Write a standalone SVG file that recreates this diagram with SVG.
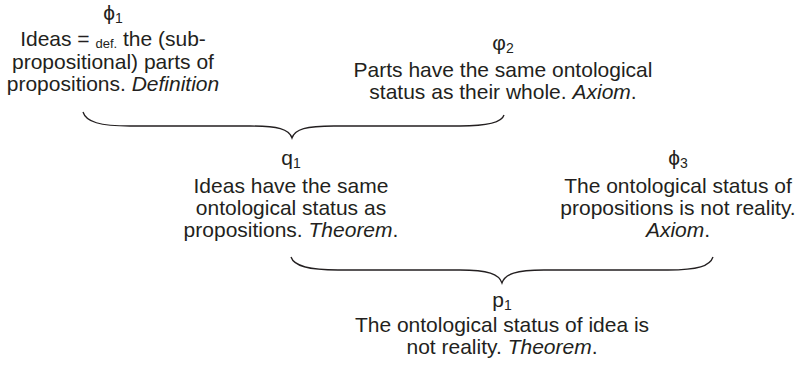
<svg xmlns="http://www.w3.org/2000/svg" width="807" height="367" viewBox="0 0 807 367">
<style>
text{font-family:"Liberation Sans",Arial,"DejaVu Sans",sans-serif;font-size:21px;fill:#231f20;text-anchor:middle}
.sub{font-size:14px}
.def{font-size:13px}
.it{font-style:italic}
.brace{fill:none;stroke:#231f20;stroke-width:1.3}
</style>
<rect width="807" height="367" fill="#fff"/>
<g id="phi1">
<text x="113" y="20">ϕ<tspan class="sub" dy="3">1</tspan></text>
<text x="113" y="46">Ideas = <tspan class="def" dy="2">def.</tspan><tspan dy="-2"> the (sub-</tspan></text>
<text x="113" y="69">propositional) parts of</text>
<text x="113" y="91">propositions. <tspan class="it">Definition</tspan></text>
</g>
<g id="phi2">
<text x="503" y="50">φ<tspan class="sub" dy="3">2</tspan></text>
<text x="503" y="77">Parts have the same ontological</text>
<text x="503" y="99">status as their whole. <tspan class="it">Axiom</tspan>.</text>
</g>
<g id="q1">
<text x="291" y="165">q<tspan class="sub" dy="3">1</tspan></text>
<text x="291" y="193">Ideas have the same</text>
<text x="291" y="215">ontological status as</text>
<text x="291" y="237">propositions. <tspan class="it">Theorem</tspan>.</text>
</g>
<g id="phi3">
<text x="678" y="165">ϕ<tspan class="sub" dy="3">3</tspan></text>
<text x="678" y="193">The ontological status of</text>
<text x="678" y="215">propositions is not reality.</text>
<text x="678" y="237"><tspan class="it">Axiom</tspan>.</text>
</g>
<g id="p1">
<text x="502" y="307">p<tspan class="sub" dy="3">1</tspan></text>
<text x="502" y="332">The ontological status of idea is</text>
<text x="502" y="354">not reality. <tspan class="it">Theorem</tspan>.</text>
</g>
<g id="connectors">
<path class="brace" d="M83,112 C86,122 100,126 130,126 L250,126 C278,126 289,129 292,138 C295,129 306,126 334,126 L460,126 C490,126 502,122 504,115"/>
<path class="brace" d="M291,257 C294,266 308,270 338,270 L460,270 C488,270 499,274 502,283 C505,274 516,270 544,270 L668,270 C698,270 710,266 713,257"/>
</g>
</svg>
